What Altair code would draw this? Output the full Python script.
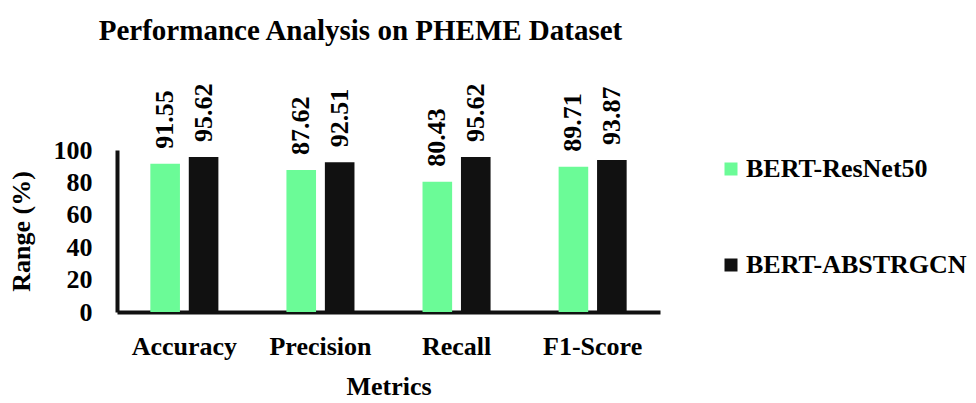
import altair as alt
import pandas as pd

metrics = ["Accuracy", "Precision", "Recall", "F1-Score"]
models = ["BERT-ResNet50", "BERT-ABSTRGCN"]
resnet_vals = [91.55, 87.62, 80.43, 89.71]
abstr_vals = [95.62, 92.51, 95.62, 93.87]
colors = ["#6BFB97", "#111111"]
y_ticks = [0, 20, 40, 60, 80, 100]

rows = []
for i, m in enumerate(metrics):
    rows.append({"Metric": m, "Model": models[0], "Value": resnet_vals[i]})
    rows.append({"Metric": m, "Model": models[1], "Value": abstr_vals[i]})
df = pd.DataFrame(rows)

FONT = "Liberation Serif"
FS = 26

x = alt.X("Metric:N", sort=metrics,
          scale=alt.Scale(paddingInner=0.5, paddingOuter=0.245),
          axis=alt.Axis(title="Metrics", labelAngle=0, labelFontSize=FS, labelFontWeight="bold",
                        labelFont=FONT, labelColor="black", labelPadding=21,
                        titleFontSize=FS, titleFontWeight="bold", titleFont=FONT, titleColor="black",
                        titlePadding=14, ticks=False, domainColor="#111111", domainWidth=4))
xo = alt.XOffset("Model:N", sort=models, scale=alt.Scale(paddingInner=0.23, paddingOuter=0))
y = alt.Y("Value:Q", scale=alt.Scale(domain=[0, 100]),
          axis=alt.Axis(title="Range (%)", values=y_ticks, grid=False, ticks=False, labelOverlap=False,
                        labelFontSize=FS, labelFontWeight="bold", labelFont=FONT, labelColor="black",
                        labelPadding=25, titleFontSize=FS, titleFontWeight="bold", titleFont=FONT,
                        titleColor="black", titlePadding=19, domainColor="#111111", domainWidth=4))
color = alt.Color("Model:N", sort=models, scale=alt.Scale(domain=models, range=colors),
                  legend=alt.Legend(title=None, orient="none", legendX=601, legendY=6,
                                    symbolType="square", symbolSize=169, symbolStrokeWidth=0,
                                    labelFontSize=FS, labelFontWeight="bold", labelFont=FONT,
                                    labelColor="black", rowPadding=70, labelOffset=2,
                                    labelLimit=400))

base = alt.Chart(df).encode(x=x, xOffset=xo, y=y)
bars = base.mark_bar().encode(color=color)
labels = base.mark_text(angle=270, align="left", baseline="middle", dx=15,
                        fontSize=FS, fontWeight="bold", font=FONT, color="black").encode(
    text=alt.Text("Value:Q", format=".2f"))

chart = alt.layer(bars, labels).properties(
    width=543, height=162,
    background="white",
    title=alt.Title("Performance Analysis on PHEME Dataset", fontSize=29, fontWeight="bold",
                    font=FONT, color="black", anchor="middle", frame="group", offset=38, dx=-28),
    autosize=alt.AutoSizeParams(type="none"),
    padding={"left": 109, "top": 142, "right": 308, "bottom": 87},
).configure_view(strokeWidth=0)

chart.save("out.html", embed_options={"renderer": "svg", "actions": False})
